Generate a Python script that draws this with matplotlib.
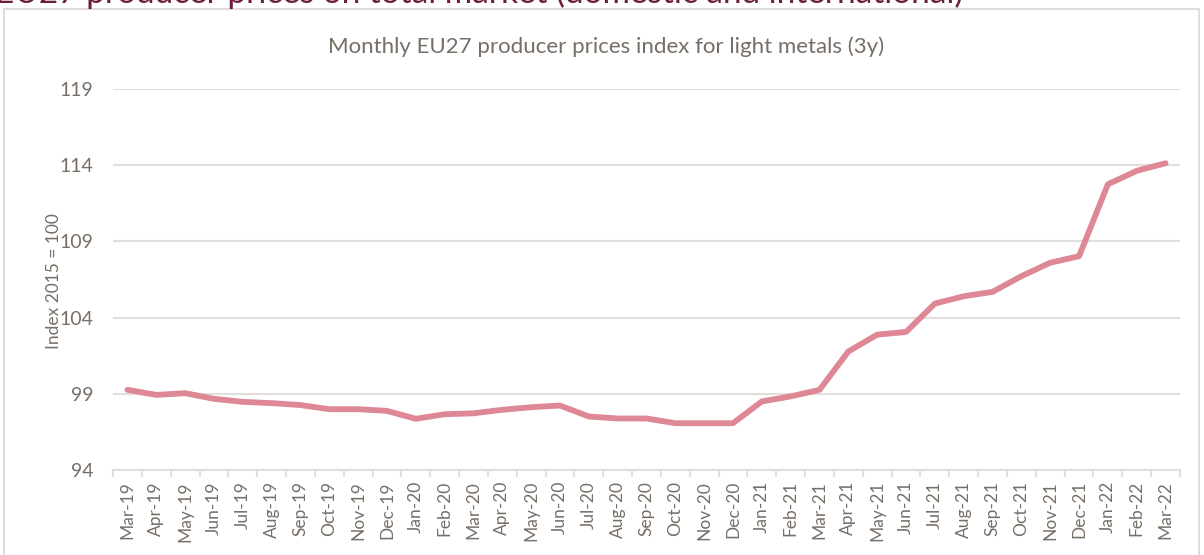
import matplotlib
matplotlib.use("Agg")
import matplotlib.pyplot as plt
from matplotlib.patches import Rectangle
import numpy as np

months = ["Mar-19", "Apr-19", "May-19", "Jun-19", "Jul-19", "Aug-19", "Sep-19", "Oct-19",
          "Nov-19", "Dec-19", "Jan-20", "Feb-20", "Mar-20", "Apr-20", "May-20", "Jun-20",
          "Jul-20", "Aug-20", "Sep-20", "Oct-20", "Nov-20", "Dec-20", "Jan-21", "Feb-21",
          "Mar-21", "Apr-21", "May-21", "Jun-21", "Jul-21", "Aug-21", "Sep-21", "Oct-21",
          "Nov-21", "Dec-21", "Jan-22", "Feb-22", "Mar-22"]
index_values = [99.26, 98.93, 99.04, 98.67, 98.47, 98.39, 98.26, 97.99,
                97.99, 97.88, 97.36, 97.66, 97.72, 97.95, 98.12, 98.23,
                97.51, 97.38, 97.38, 97.07, 97.07, 97.07, 98.50, 98.83,
                99.26, 101.78, 102.88, 103.06, 104.92, 105.40, 105.69, 106.72,
                107.60, 108.03, 112.75, 113.63, 114.13]
y_ticks = [94, 99, 104, 109, 114, 119]

plt.rcParams['font.family'] = ['Lato', 'DejaVu Sans']
text_color = "#776E66"
grid_color = "#E2DEDA"
line_color = "#DE8795"

fig = plt.figure(figsize=(12.04, 5.55), dpi=100)
fig.patch.set_facecolor("white")

# outer frame
fig.patches.append(Rectangle((4/1204, -0.02), 1195/1204, 1 - 9/555 + 0.02,
                             transform=fig.transFigure, fill=False,
                             edgecolor="#D9D5D2", linewidth=1.2))
# cut-off heading at the top (cut off in the reference as well)
fig.text(-0.004, 1.0 + 7/555, "EU27 producer prices on total market (domestic and international)",
         color="#6B1E3F", fontsize=24, ha="left", va="center")

ax = fig.add_axes([113/1204, 1 - 470/555, (1180 - 113)/1204, (470 - 89)/555])
x = np.arange(len(months))
ax.plot(x, index_values, color=line_color, linewidth=4.2, solid_capstyle="round",
        solid_joinstyle="round", zorder=3)

ax.set_xlim(-0.5, len(months) - 0.5)
ax.set_ylim(94, 119)
ax.set_yticks(y_ticks)
ax.set_yticklabels([str(v) for v in y_ticks], color=text_color, fontsize=14)
ax.tick_params(axis="y", length=0, pad=14)
ax.grid(axis="y", color=grid_color, linewidth=1.5, zorder=0)
ax.set_axisbelow(True)

ax.set_xticks(x)
ax.set_xticklabels(months, rotation=90, color=text_color, fontsize=12.5)
ax.set_xticks(np.arange(-0.5, len(months)), minor=True)
ax.tick_params(axis="x", which="major", length=0, pad=8)
ax.tick_params(axis="x", which="minor", length=5, color=grid_color, width=1.5)

for s in ["top", "right", "left"]:
    ax.spines[s].set_visible(False)
ax.spines["bottom"].set_color(grid_color)
ax.spines["bottom"].set_linewidth(1.5)

ax.set_ylabel("Index 2015 = 100", color=text_color, fontsize=12.5)
ax.yaxis.set_label_coords(-0.048, 0.496)
fig.text(606/1204, 1 - 47/555, "Monthly EU27 producer prices index for light metals (3y)",
         color=text_color, fontsize=16, ha="center", va="center")

fig.savefig("out.png", dpi=100, facecolor="white")
